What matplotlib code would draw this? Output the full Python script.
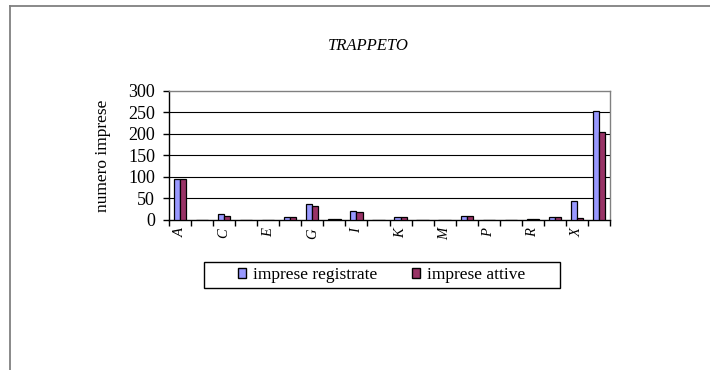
import matplotlib
matplotlib.use("Agg")
import matplotlib.pyplot as plt
import numpy as np
from matplotlib.patches import Rectangle
from matplotlib.lines import Line2D

categories = ["A", "B", "C", "D", "E", "F", "G", "H", "I", "J",
              "K", "L", "M", "N", "P", "Q", "R", "S", "X", "NC"]
registrate = [96, 0, 13, 0, 0, 6, 38, 3, 20, 1, 8, 1, 1, 9, 1, 1, 3, 7, 43, 252]
attive = [95, 0, 10, 0, 0, 6, 33, 3, 19, 1, 7, 1, 1, 9, 0, 1, 3, 7, 4, 204]
shown_labels = ["A", "", "C", "", "E", "", "G", "", "I", "", "K", "", "M", "", "P", "", "R", "", "X", ""]
yticks = [0, 50, 100, 150, 200, 250, 300]

serif = ["Liberation Serif", "DejaVu Serif"]
plt.rcParams["font.family"] = serif

fig = plt.figure(figsize=(7.1, 3.7), dpi=100)
fig.patch.set_facecolor("white")

# outer frame (top and left edges visible)
fig.add_artist(Line2D([9.5 / 710, 1.0], [1 - 5.7 / 370] * 2, transform=fig.transFigure,
                      color="#808080", lw=1.3))
fig.add_artist(Line2D([9.5 / 710] * 2, [0, 1 - 5.7 / 370], transform=fig.transFigure,
                      color="#808080", lw=1.3))

ax = fig.add_axes([169 / 710, 1 - 220 / 370, (610 - 169) / 710, (220 - 90.7) / 370])
x = np.arange(len(categories))
w = 0.28
ax.bar(x - w / 2, registrate, w, color="#9999FF", edgecolor="black", linewidth=0.9, zorder=3,
       label="imprese registrate")
ax.bar(x + w / 2, attive, w, color="#993366", edgecolor="black", linewidth=0.9, zorder=3,
       label="imprese attive")

ax.set_xlim(-0.5, len(categories) - 0.5)
ax.set_ylim(0, 300)
ax.set_yticks(yticks)
ax.set_yticklabels([str(v) for v in yticks], fontsize=13)
ax.tick_params(axis="y", direction="out", length=4, width=1, pad=6)
for v in yticks[1:-1]:
    ax.axhline(v, color="black", lw=0.8, zorder=1)

ax.set_xticks(x)
ax.set_xticklabels(shown_labels, rotation=90, fontsize=10.5, fontstyle="italic")
ax.tick_params(axis="x", which="major", length=0, pad=6)
ax.set_xticks(np.arange(len(categories) + 1) - 0.5, minor=True)
ax.tick_params(axis="x", which="minor", direction="out", length=4, width=1)

ax.spines["left"].set_color("black")
ax.spines["bottom"].set_color("black")
ax.spines["top"].set_color("#808080")
ax.spines["right"].set_color("#808080")
for s in ax.spines.values():
    s.set_linewidth(1)

ax.set_ylabel("numero imprese", fontsize=12.5, labelpad=12)

fig.text(368 / 710, 1 - 46 / 370, "TRAPPETO", ha="center", va="center",
         fontsize=12, fontstyle="italic")

# legend frame
fig.add_artist(Rectangle((204 / 710, 1 - 288 / 370), (560 - 204) / 710, 26 / 370,
                         transform=fig.transFigure, facecolor="white", edgecolor="black",
                         lw=1, zorder=2))
handles = [Rectangle((0, 0), 1, 1, facecolor="#9999FF", edgecolor="black", lw=1),
           Rectangle((0, 0), 1, 1, facecolor="#993366", edgecolor="black", lw=1)]
leg = fig.legend(handles, ["imprese registrate", "imprese attive"], loc="center",
                 bbox_to_anchor=(382 / 710, 1 - 275 / 370), ncol=2, fontsize=12.5,
                 frameon=False, handlelength=0.46, handleheight=0.46,
                 handletextpad=0.4, columnspacing=2.0, borderpad=0.2, borderaxespad=0)
leg.set_zorder(3)

fig.savefig("out.png", dpi=100, facecolor="white")
